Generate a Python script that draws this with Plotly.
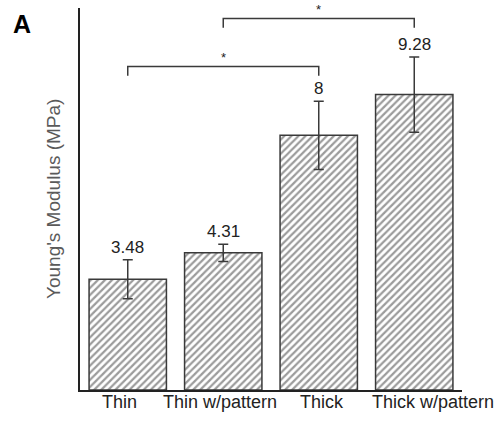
import plotly.graph_objects as go

categories = ["Thin", "Thin w/pattern", "Thick", "Thick w/pattern"]
modulus = [3.48, 4.31, 8.0, 9.28]
modulus_err = [0.61, 0.27, 1.07, 1.18]
value_labels = ["3.48", "4.31", "8", "9.28"]
comparisons = [("Thin", "Thick", "*"), ("Thin w/pattern", "Thick w/pattern", "*")]

# layout constants (positions in data units / pixels)
bracket_levels = [10.16, 11.67]
bracket_drop = 0.29
label_xshift = [-8, -3, 3, 19]

FONT = "Liberation Sans, Arial, sans-serif"
LINE = "#3a3a3a"

fig = go.Figure()
fig.add_trace(go.Bar(
    x=categories, y=modulus, width=0.81,
    marker=dict(color="white",
                line=dict(color=LINE, width=1.5),
                pattern=dict(shape="/", size=5, solidity=0.45,
                             fgcolor="#383838", bgcolor="white", fillmode="overlay")),
    error_y=dict(type="data", array=modulus_err, visible=True,
                 color=LINE, thickness=1.5, width=5),
    showlegend=False, hoverinfo="skip",
))

annotations = []
for c, v, e, t in zip(categories, modulus, modulus_err, value_labels):
    annotations.append(dict(x=c, y=v + e, xref="x", yref="y", text=t,
                            showarrow=False, yanchor="bottom", yshift=1,
                            font=dict(family=FONT, size=17, color="#222")))

for c, dx in zip(categories, label_xshift):
    annotations.append(dict(x=c, y=0, xref="x", yref="y", text=c,
                            showarrow=False, yanchor="middle", yshift=-12, xshift=dx,
                            font=dict(family=FONT, size=18, color="#222")))

shapes = []
for (a, b, s), lvl in zip(comparisons, bracket_levels):
    ia, ib = categories.index(a), categories.index(b)
    shapes.append(dict(type="path", xref="x", yref="y",
                       path=f"M {ia},{lvl - bracket_drop} L {ia},{lvl} L {ib},{lvl} L {ib},{lvl - bracket_drop}",
                       line=dict(color=LINE, width=1.5)))
    annotations.append(dict(x=(ia + ib) / 2, y=lvl, xref="x", yref="y", text=s,
                            showarrow=False, yanchor="bottom", yshift=0,
                            font=dict(family=FONT, size=13, color="#222")))

annotations.append(dict(x=-27 / 382, y=0.5, xref="paper", yref="paper",
                        text="Young's Modulus (MPa)", textangle=-90, showarrow=False,
                        xanchor="center", yanchor="middle",
                        font=dict(family=FONT, size=19, color="#5a5a5a")))
annotations.append(dict(x=-58 / 382, y=1 - 16 / 382, xref="paper", yref="paper",
                        text="<b>A</b>", showarrow=False,
                        xanchor="center", yanchor="middle",
                        font=dict(family=FONT, size=25, color="black")))

fig.update_layout(
    width=502, height=421,
    margin=dict(l=80, r=40, t=8, b=31, autoexpand=False),
    paper_bgcolor="white", plot_bgcolor="white",
    annotations=annotations, shapes=shapes,
    hovermode=False,
    xaxis=dict(range=[-0.5, 3.5], showline=True, linecolor="#222", linewidth=2,
               ticks="", showticklabels=False, showgrid=False, zeroline=False,
               automargin=False),
    yaxis=dict(range=[0, 12], showline=True, linecolor="#222", linewidth=2,
               ticks="", showticklabels=False, showgrid=False, zeroline=False,
               automargin=False),
)

# remove the browser's default 8px body margin so the figure fills the window
fig.write_html("out.html",
               config={"displayModeBar": False, "staticPlot": True},
               post_script="document.body.style.margin='0';document.body.style.overflow='hidden';")
